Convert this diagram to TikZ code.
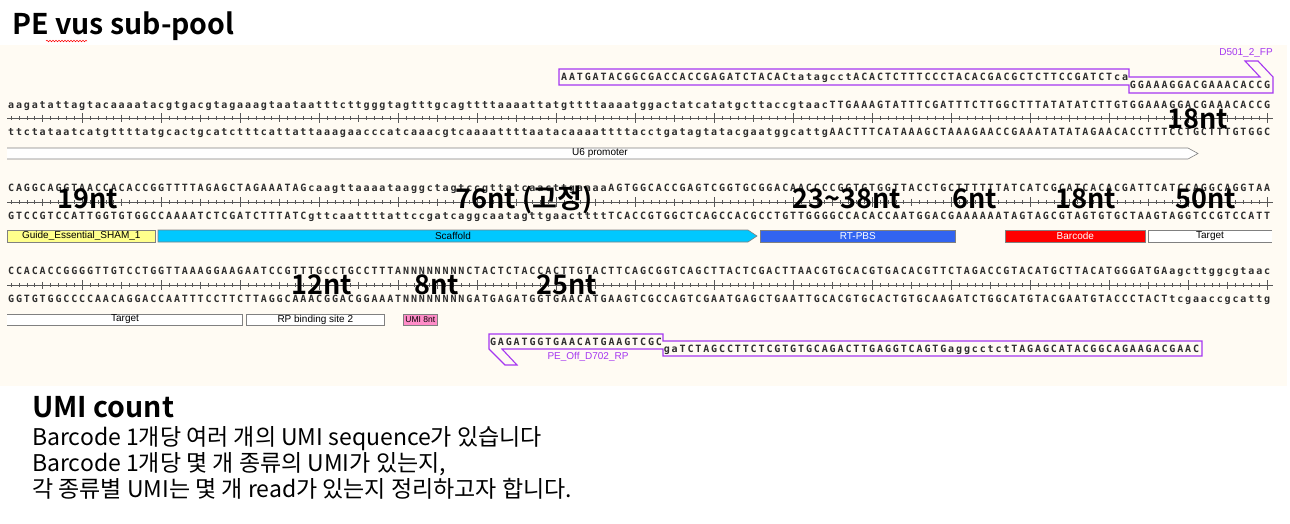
\documentclass[tikz,border=0pt]{standalone}
\usepackage{fontspec}
\usepackage{xcolor}
\usepackage{tikz}
\usetikzlibrary{decorations.pathmorphing}
\newfontfamily\krfont{Noto Sans CJK KR}[BoldFont={Noto Sans CJK KR Bold}]
\newfontfamily\seqfont{DejaVu Sans Mono}
\newfontfamily\featfont{Liberation Sans}
\definecolor{mapbg}{RGB}{255,251,243}
\definecolor{primerpurple}{RGB}{165,55,240}
\definecolor{seqgray}{RGB}{45,45,45}
\definecolor{featgray}{RGB}{128,128,128}
\definecolor{guideyellow}{RGB}{255,255,140}
\definecolor{scaffoldcyan}{RGB}{0,200,255}
\definecolor{rtpbsblue}{RGB}{50,100,240}
\definecolor{barcodered}{RGB}{255,0,0}
\definecolor{umipink}{RGB}{255,140,200}
% one column per base
\newcommand\seqtxt[1]{\seqloop#1\relax}
\def\seqloop#1{\ifx\relax#1\else\makebox[7.9pt]{#1}\expandafter\seqloop\fi}

\begin{document}
\begin{tikzpicture}[x=1pt, y=-1pt,
  seq/.style={font={\seqfont\bfseries\fontsize{10}{12}\selectfont}, text=seqgray, inner sep=0, anchor=base west},
  feat/.style={draw=featgray, line width=0.6pt, inner sep=0, minimum height=12pt, anchor=west, font={\featfont\fontsize{10}{12}\selectfont}},
  featlabel/.style={inner sep=0, font={\featfont\fontsize{10}{12}\selectfont}},
  primer/.style={draw=primerpurple, line width=1.1pt},
  primerlabel/.style={inner sep=0, text=primerpurple, font={\featfont\fontsize{10}{12}\selectfont}},
  ntlabel/.style={inner sep=0, anchor=base, font={\krfont\bfseries\fontsize{27}{31}\selectfont}},
  heading/.style={inner sep=0, anchor=base west, font={\krfont\bfseries\fontsize{28.5}{32}\selectfont}},
  note/.style={inner sep=0, anchor=base west, font={\krfont\fontsize{23}{27}\selectfont}}]
\useasboundingbox (0,0) rectangle (1290,523);
\fill[white] (0,0) rectangle (1290,523);
\fill[mapbg] (0,45) rectangle (1287,386);

% title
\node[heading] (title) at (12,34) {PE vus sub-pool};
\draw[red, line width=0.5pt, decorate, decoration={snake, amplitude=0.8pt, segment length=3pt}] (46,41) -- (87,41);

% forward primer
\draw[primer] (559,69) -- (1129,69) -- (1129,77) -- (1260,77) -- (1245,61) -- (1258,61) -- (1273,77) -- (1273,93) -- (1129,93) -- (1129,85) -- (559,85) -- cycle;
\node[seq] (fpup) at (560,80.7) {\seqtxt{AATGATACGGCGACCACCGAGATCTACACtatagcctACACTCTTTCCCTACACGACGCTCTTCCGATCTca}};
\node[seq] (fplow) at (1128.8,88.7) {\seqtxt{GGAAAGGACGAAACACCG}};
\node[primerlabel] (fpname) at (1246,53) {D501\_2\_FP};

% rulers
\foreach \ry in {118,202,285} {
  \draw[seqgray!80, line width=0.6pt] (7,\ry) -- (1273,\ry);
  \foreach \i in {1,...,160}
    \draw[seqgray!80, line width=0.5pt] ({7+(\i-0.5)*7.9},\ry-2) -- ++(0,4);
  \foreach \i in {5,15,...,155}
    \draw[seqgray!80, line width=0.6pt] ({7+(\i-0.5)*7.9},\ry-3.5) -- ++(0,7);
  \foreach \i in {10,20,...,160}
    \draw[seqgray!80, line width=0.6pt] ({7+(\i-0.5)*7.9},\ry-5) -- ++(0,10);
}

% line 1
\node[seq] (top1) at (7,108.7) {\seqtxt{aagatattagtacaaaatacgtgacgtagaaagtaataatttcttgggtagtttgcagttttaaaattatgttttaaaatggactatcatatgcttaccgtaacTTGAAAGTATTTCGATTTCTTGGCTTTATATATCTTGTGGAAAGGACGAAACACCG}};
\node[seq] (bot1) at (7,135.7) {\seqtxt{ttctataatcatgttttatgcactgcatctttcattattaaagaacccatcaaacgtcaaaattttaatacaaaattttacctgatagtatacgaatggcattgAACTTTCATAAAGCTAAAGAACCGAAATATATAGAACACCTTTCCTGCTTTGTGGC}};
\fill[white] (7,148) -- (1188,148) -- (1198,153.5) -- (1188,159) -- (7,159) -- cycle;
\draw[featgray, line width=0.6pt] (7,148) -- (1188,148) -- (1198,153.5) -- (1188,159) -- (7,159);
\node[featlabel] (u6) at (600,153.5) {U6 promoter};

% line 2
\node[seq] (top2) at (7,191.7) {\seqtxt{CAGGCAGGTAACCACACCGGTTTTAGAGCTAGAAATAGcaagttaaaataaggctagtccgttatcaacttgaaaaAGTGGCACCGAGTCGGTGCGGACAACCCCGGTGTGGTTACCTGCTTTTTTATCATCGCATCACACGATTCATCCAGGCAGGTAA}};
\node[seq] (bot2) at (7,219.7) {\seqtxt{GTCCGTCCATTGGTGTGGCCAAAATCTCGATCTTTATCgttcaattttattccgatcaggcaatagttgaacttttTCACCGTGGCTCAGCCACGCCTGTTGGGGCCACACCAATGGACGAAAAAATAGTAGCGTAGTGTGCTAAGTAGGTCCGTCCATT}};
\node[feat, fill=guideyellow, minimum width=148pt] (guide) at (7,236) {Guide\_Essential\_SHAM\_1};
\filldraw[fill=scaffoldcyan, draw=featgray, line width=0.6pt] (158,230) -- (748,230) -- (757,236) -- (748,242) -- (158,242) -- cycle;
\node[featlabel] (scaffold) at (453,236) {Scaffold};
\node[feat, fill=rtpbsblue, text=white, minimum width=195pt] (rtpbs) at (760,236) {RT-PBS};
\node[feat, fill=barcodered, text=white, minimum width=140pt] (barcode) at (1005,236) {Barcode};
\fill[white] (1148,230) rectangle (1272,242);
\draw[featgray, line width=0.6pt] (1272,230) -- (1148,230) -- (1148,242) -- (1272,242);
\node[featlabel] (target2) at (1210,236) {Target};

% line 3
\node[seq] (top3) at (7,274.7) {\seqtxt{CCACACCGGGGTTGTCCTGGTTAAAGGAAGAATCCGTTTGCCTGCCTTTANNNNNNNNCTACTCTACCACTTGTACTTCAGCGGTCAGCTTACTCGACTTAACGTGCACGTGACACGTTCTAGACCGTACATGCTTACATGGGATGAagcttggcgtaac}};
\node[seq] (bot3) at (7,302.7) {\seqtxt{GGTGTGGCCCCAACAGGACCAATTTCCTTCTTAGGCAAACGGACGGAAATNNNNNNNNGATGAGATGGTGAACATGAAGTCGCCAGTCGAATGAGCTGAATTGCACGTGCACTGTGCAAGATCTGGCATGTACGAATGTACCCTACTtcgaaccgcattg}};
\fill[white] (7,314) rectangle (242,325);
\draw[featgray, line width=0.6pt] (7,314) -- (242,314) -- (242,325) -- (7,325);
\node[featlabel] (target3) at (125,319.5) {Target};
\node[feat, fill=white, minimum width=138pt, minimum height=11pt] (rpsite) at (246,319.5) {RP binding site 2};
\node[feat, fill=umipink, minimum width=34pt, minimum height=11pt, font={\featfont\fontsize{8.5}{10}\selectfont}] (umi) at (403,319.5) {UMI 8nt};

% reverse primer
\draw[primer] (489,334) -- (663,334) -- (663,341) -- (1202,341) -- (1202,356) -- (663,356) -- (663,349) -- (502,349) -- (517,365) -- (505,365) -- (489,349) -- cycle;
\node[seq] (rpup) at (488.9,345.2) {\seqtxt{GAGATGGTGAACATGAAGTCGC}};
\node[seq] (rplow) at (662.7,352.2) {\seqtxt{gaTCTAGCCTTCTCGTGTGCAGACTTGAGGTCAGTGaggcctctTAGAGCATACGGCAGAAGACGAAC}};
\node[primerlabel] (rpname) at (588,357) {PE\_Off\_D702\_RP};

% lengths
\node[ntlabel] (nt18a) at (1198,128) {18nt};
\node[ntlabel] (nt19) at (88,208) {19nt};
\node[ntlabel] (nt76) at (524,208) {76nt (고정)};
\node[ntlabel] (nt2338) at (847,208) {23\textasciitilde38nt};
\node[ntlabel] (nt6) at (975,208) {6nt};
\node[ntlabel] (nt18b) at (1086,208) {18nt};
\node[ntlabel] (nt50) at (1206,208) {50nt};
\node[ntlabel] (nt12) at (322,294) {12nt};
\node[ntlabel] (nt8) at (437,294) {8nt};
\node[ntlabel] (nt25) at (567,294) {25nt};

% notes
\node[heading] (umihead) at (32,417) {UMI count};
\node[note] (note1) at (32,445) {Barcode 1개당 여러 개의 UMI sequence가 있습니다};
\node[note] (note2) at (32,471) {Barcode 1개당 몇 개 종류의 UMI가 있는지,};
\node[note] (note3) at (32,497) {각 종류별 UMI는 몇 개 read가 있는지 정리하고자 합니다.};
\end{tikzpicture}
\end{document}
